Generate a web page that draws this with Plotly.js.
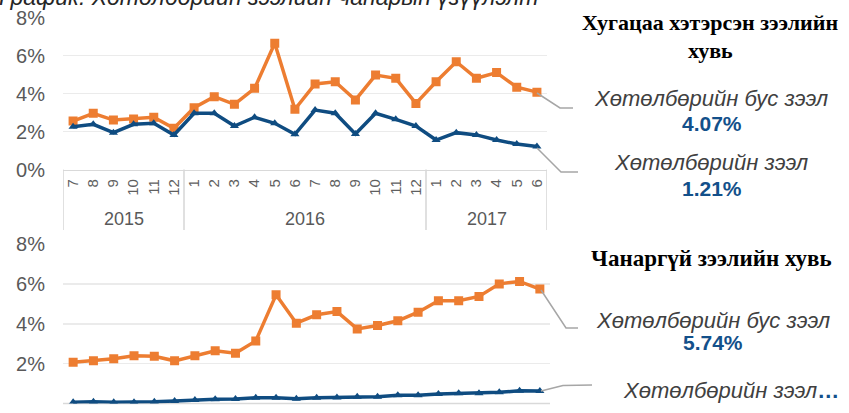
<!DOCTYPE html>
<html>
<head>
<meta charset="utf-8">
<script src="https://cdn.plot.ly/plotly-3.0.1.min.js"></script>
<style>html,body{margin:0;padding:0;background:#fff;}#chart{width:849px;height:413px;}</style>
</head>
<body>
<div id="chart"></div>
<script>
// ---- data ----
const years  = ['2015','2015','2015','2015','2015','2015',
                '2016','2016','2016','2016','2016','2016','2016','2016','2016','2016','2016','2016',
                '2017','2017','2017','2017','2017','2017'];
const months = ['7','8','9','10','11','12',
                '1','2','3','4','5','6','7','8','9','10','11','12',
                '1','2','3','4','5','6'];
// Overdue loan share, % (top panel)
const overdueNonProgram = [2.55,2.96,2.60,2.66,2.75,2.17,3.25,3.83,3.43,4.27,6.64,3.17,
                           4.50,4.62,3.66,4.97,4.80,3.48,4.62,5.67,4.80,5.10,4.33,4.07];
const overdueProgram    = [2.25,2.38,1.94,2.38,2.43,1.82,2.96,2.96,2.29,2.75,2.43,1.85,
                           3.13,2.96,1.87,2.96,2.64,2.29,1.55,1.94,1.82,1.55,1.34,1.21];
// Non-performing loan share, % (bottom panel)
const nplNonProgram = [2.07,2.14,2.24,2.40,2.37,2.14,2.39,2.64,2.52,3.14,5.45,4.03,
                       4.45,4.61,3.74,3.91,4.15,4.58,5.15,5.15,5.37,6.00,6.12,5.74];
const nplProgram    = [0.06,0.09,0.06,0.06,0.09,0.13,0.18,0.21,0.23,0.29,0.29,0.24,
                       0.29,0.30,0.34,0.34,0.41,0.41,0.48,0.51,0.51,0.56,0.64,0.63];
const yTicks = [0,2,4,6,8];
const yTickText = yTicks.map(v => v + '%');
const labels = {
  title: 'График. Хөтөлбөрийн зээлийн чанарын үзүүлэлт',
  topHead1: 'Хугацаа хэтэрсэн зээлийн',
  topHead2: 'хувь',
  botHead: 'Чанаргүй зээлийн хувь',
  nonProgram: 'Хөтөлбөрийн бус зээл',
  program: 'Хөтөлбөрийн зээл'
};
const last = a => a[a.length - 1];

// ---- styling ----
const ORANGE = '#ED7D31';
const BLUE = '#0F4C81';
const GRID = '#EBEBEB';
const AXIS = '#D9D9D9';
const W = 849, H = 413;
const X = p => p / W;
const Y = p => 1 - p / H;

const xIdx = months.map((m, i) => i);

function line(y, color, sym, size, xa, ya) {
  return {
    x: xIdx, y: y, xaxis: xa, yaxis: ya, type: 'scatter', mode: 'lines+markers',
    line: {color: color, width: 3.5},
    marker: {symbol: sym, size: size, color: color},
    hoverinfo: 'skip', showlegend: false
  };
}

const data = [
  line(overdueNonProgram, ORANGE, 'square', 9, 'x', 'y'),
  line(overdueProgram, BLUE, 'triangle-up', 8, 'x', 'y'),
  line(nplNonProgram, ORANGE, 'square', 9, 'x2', 'y2'),
  line(nplProgram, BLUE, 'triangle-up', 8, 'x2', 'y2')
];

const yCommon = {
  range: [0, 8], tickvals: yTicks, ticktext: yTickText,
  showgrid: true, gridcolor: GRID, gridwidth: 1.6,
  zeroline: false, showline: false, ticks: '',
  ticklabelstandoff: 17,
  tickfont: {family: 'Liberation Sans, Arial', size: 20, color: '#595959'},
  fixedrange: true
};

const layout = {
  width: W, height: H,
  margin: {l: 0, r: 0, t: 0, b: 0},
  paper_bgcolor: '#fff', plot_bgcolor: '#fff',
  showlegend: false,
  xaxis: {
    type: 'linear', domain: [X(63), X(547)], anchor: 'y',
    range: [-0.5, 23.5], tickvals: xIdx, ticktext: months,
    showline: true, linecolor: AXIS, linewidth: 1.6,
    showgrid: false, zeroline: false, ticks: '', tickangle: -90,
    ticklabelstandoff: 2,
    tickfont: {family: 'Liberation Sans, Arial', size: 15, color: '#5F5F5F'},
    fixedrange: true
  },
  yaxis: Object.assign({}, yCommon, {domain: [Y(169.5), Y(17.5)], anchor: 'x'}),
  xaxis2: {
    type: 'linear', domain: [X(63), X(550)], anchor: 'y2',
    range: [-0.5, 23.5], showticklabels: false, showgrid: false,
    zeroline: false, showline: false, ticks: '', fixedrange: true
  },
  yaxis2: Object.assign({}, yCommon, {domain: [Y(403.5), Y(244)], anchor: 'x2'}),
  shapes: [
    {type: 'path', xref: 'paper', yref: 'paper',
     path: `M ${X(537)},${Y(93)} L ${X(560)},${Y(108)} L ${X(573)},${Y(108)}`,
     line: {color: '#A6A6A6', width: 1.5}},
    {type: 'path', xref: 'paper', yref: 'paper',
     path: `M ${X(537)},${Y(148)} L ${X(561)},${Y(172)} L ${X(578)},${Y(172)}`,
     line: {color: '#A6A6A6', width: 1.5}},
    {type: 'path', xref: 'paper', yref: 'paper',
     path: `M ${X(541)},${Y(290)} L ${X(566)},${Y(328)} L ${X(578)},${Y(328)}`,
     line: {color: '#A6A6A6', width: 1.5}},
    {type: 'path', xref: 'paper', yref: 'paper',
     path: `M ${X(541)},${Y(391)} L ${X(563)},${Y(385.5)} L ${X(592)},${Y(385)}`,
     line: {color: '#A6A6A6', width: 1.5}},
    {type: 'line', xref: 'paper', yref: 'paper',
     x0: X(63), x1: X(550), y0: Y(403.5), y1: Y(403.5),
     line: {color: AXIS, width: 1.6}, layer: 'below'}
  ],
  annotations: []
};

// year group dividers and labels on the top x axis
const groups = [];
years.forEach((y, i) => {
  const g = groups[groups.length - 1];
  if (g && g.year === y) g.end = i; else groups.push({year: y, start: i, end: i});
});
const divX = [groups[0].start - 0.5].concat(groups.map(g => g.end + 0.5));
divX.forEach(xv => layout.shapes.push({
  type: 'line', xref: 'x', yref: 'paper', x0: xv, x1: xv, y0: Y(169.5), y1: Y(230),
  line: {color: AXIS, width: 1.6}
}));
groups.forEach(g => layout.annotations.push({
  text: g.year, xref: 'x', yref: 'paper', x: (g.start + g.end) / 2, y: Y(219),
  xanchor: 'center', yanchor: 'middle', showarrow: false,
  font: {family: 'Liberation Sans, Arial', size: 18, color: '#595959'}
}));

const serif = {family: 'Liberation Serif, Times New Roman', size: 22, color: '#000'};
const serif2 = {family: 'Liberation Serif, Times New Roman', size: 23, color: '#000'};
const ital = {family: 'Liberation Sans, Arial', size: 22, color: '#404040'};
const val = {family: 'Liberation Sans, Arial', size: 21, color: '#13508A'};
function ann(text, px, py, font, xanchor) {
  layout.annotations.push({
    text: text, xref: 'paper', yref: 'paper', x: X(px), y: Y(py),
    xanchor: xanchor || 'center', yanchor: 'middle', showarrow: false, font: font
  });
}
ann('<i>' + labels.title + '</i>', -3, -3, {family: 'Liberation Sans, Arial', size: 23, color: '#262626'}, 'left');
ann('<b>' + labels.topHead1 + '</b>', 710, 22, serif);
ann('<b>' + labels.topHead2 + '</b>', 710, 50, serif);
ann('<i>' + labels.nonProgram + '</i>', 711, 98, ital);
ann('<b>' + last(overdueNonProgram).toFixed(2) + '%</b>', 712, 123, val);
ann('<i>' + labels.program + '</i>', 711, 162, ital);
ann('<b>' + last(overdueProgram).toFixed(2) + '%</b>', 712, 188, val);
ann('<b>' + labels.botHead + '</b>', 711, 258, serif2);
ann('<i>' + labels.nonProgram + '</i>', 713, 320, ital);
ann('<b>' + last(nplNonProgram).toFixed(2) + '%</b>', 713, 342, val);
ann('<i>' + labels.program + '</i><span style="color:#13508A"><b>…</b></span>', 731, 390, ital);

Plotly.newPlot('chart', data, layout, {staticPlot: true, displayModeBar: false});
</script>
</body>
</html>
